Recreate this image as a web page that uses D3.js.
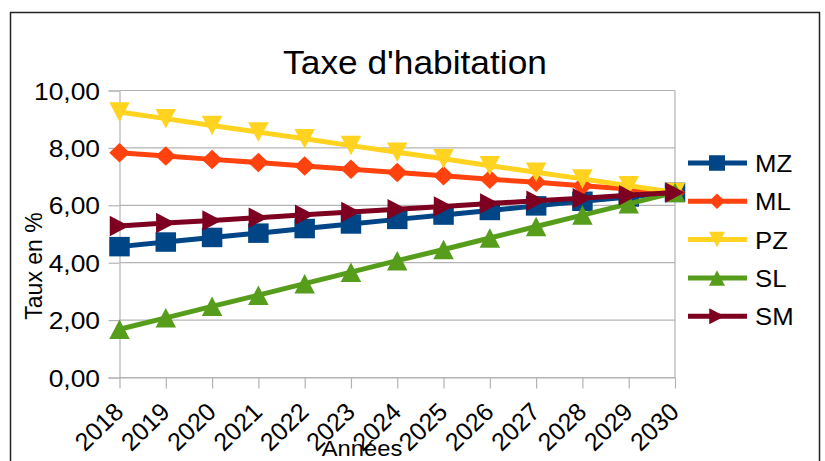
<!DOCTYPE html>
<html>
<head>
<meta charset="utf-8">
<script src="https://cdn.jsdelivr.net/npm/d3@7"></script>
<style>
  html, body { margin: 0; padding: 0; background: #fff; }
  svg { display: block; font-family: "Liberation Sans", Arial, sans-serif; }
</style>
</head>
<body>
<svg id="chart" width="825" height="461"></svg>
<script>
// Tax rates (%) per year for each commune
const years = ["2018","2019","2020","2021","2022","2023","2024","2025","2026","2027","2028","2029","2030"];
const MZ = [4.56, 4.72, 4.88, 5.03, 5.19, 5.35, 5.51, 5.66, 5.82, 5.98, 6.14, 6.29, 6.45];
const ML = [7.83, 7.72, 7.60, 7.49, 7.37, 7.26, 7.14, 7.03, 6.91, 6.80, 6.68, 6.57, 6.45];
const PZ = [9.25, 9.02, 8.78, 8.55, 8.32, 8.08, 7.85, 7.62, 7.38, 7.15, 6.92, 6.68, 6.45];
const SL = [1.68, 2.08, 2.48, 2.87, 3.27, 3.67, 4.07, 4.46, 4.86, 5.26, 5.66, 6.05, 6.45];
const SM = [5.28, 5.38, 5.47, 5.57, 5.67, 5.77, 5.86, 5.96, 6.06, 6.16, 6.25, 6.35, 6.45];
const yTicks = [0, 2, 4, 6, 8, 10];

const series = [
  { name: "MZ", values: MZ, color: "#004586", marker: "square" },
  { name: "ML", values: ML, color: "#ff420e", marker: "diamond" },
  { name: "PZ", values: PZ, color: "#ffd320", marker: "down" },
  { name: "SL", values: SL, color: "#579d1c", marker: "up" },
  { name: "SM", values: SM, color: "#7e0021", marker: "right" }
];

const svg = d3.select("#chart");
const plot = { left: 119.5, right: 675, top: 90.5, bottom: 377.5 };

const x = d3.scalePoint().domain(years).range([plot.left, plot.right]);
const y = d3.scaleLinear().domain([0, 10]).range([plot.bottom, plot.top]);
const fmt = v => d3.format(".2f")(v).replace(".", ",");

// Outer frame
svg.append("path")
  .attr("d", "M10.5,470 V12.5 H819.5 V470")
  .attr("fill", "none").attr("stroke", "#222").attr("stroke-width", 1.5);

// Slightly wide lettering
function wideText(sel, tx, ty, size, sx, anchor) {
  return sel.append("text")
    .attr("transform", `translate(${tx},${ty}) scale(${sx},1)`)
    .attr("text-anchor", anchor)
    .attr("font-size", size);
}

// Title
wideText(svg, 415, 74, 33, 1.07, "middle").text("Taxe d'habitation");

// Horizontal gridlines and plot border
const grid = svg.append("g").attr("stroke", "#b3b3b3").attr("stroke-width", 1.2);
yTicks.forEach(t => {
  grid.append("line")
    .attr("x1", plot.left).attr("x2", plot.right)
    .attr("y1", y(t)).attr("y2", y(t));
});
grid.append("line").attr("x1", plot.right).attr("x2", plot.right)
  .attr("y1", plot.top).attr("y2", plot.bottom);

// Y axis
const yAxis = svg.append("g")
  .attr("transform", `translate(${plot.left},0)`)
  .call(d3.axisLeft(y).tickValues(yTicks).tickFormat(fmt).tickSize(11).tickPadding(6));
yAxis.select(".domain").attr("stroke", "#b3b3b3").attr("stroke-width", 1.2);
yAxis.selectAll(".tick line").attr("stroke", "#b3b3b3").attr("stroke-width", 1.2);
yAxis.selectAll(".tick text")
  .attr("font-size", 24).attr("fill", "#000")
  .attr("font-family", "Liberation Sans, Arial, sans-serif")
  .attr("x", 0)
  .attr("dy", "0.36em")
  .attr("transform", "translate(-19.5,0) scale(1.1,1)");

// X axis
const xAxis = svg.append("g")
  .attr("transform", `translate(0,${plot.bottom})`)
  .call(d3.axisBottom(x).tickSize(11).tickSizeOuter(0));
xAxis.select(".domain").attr("stroke", "#b3b3b3").attr("stroke-width", 1.2);
xAxis.selectAll(".tick line").attr("stroke", "#b3b3b3").attr("stroke-width", 1.2);
xAxis.selectAll(".tick text")
  .attr("font-size", 25).attr("fill", "#000")
  .attr("font-family", "Liberation Sans, Arial, sans-serif")
  .attr("text-anchor", "end")
  .attr("dy", null).attr("y", null)
  .attr("transform", "translate(5,36) rotate(-44)");

// Axis titles
svg.append("text")
  .attr("transform", "translate(42,266) rotate(-90)")
  .attr("text-anchor", "middle")
  .attr("font-size", 23)
  .text("Taux en %");
wideText(svg, 362, 456, 22, 1.08, "middle").text("Années");

// Marker shapes (w = width, h = height)
function markerPath(type, w, h) {
  const a = w / 2, b = h / 2;
  switch (type) {
    case "square": return `M${-a},${-b}H${a}V${b}H${-a}Z`;
    case "diamond": return `M0,${-b}L${a},0L0,${b}L${-a},0Z`;
    case "down": return `M${-a},${-b}H${a}L0,${b}Z`;
    case "up": return `M${-a},${b}H${a}L0,${-b}Z`;
    case "right": return `M${-b},${-a}V${a}L${b},0Z`;
  }
}

// Series lines with markers
const line = d3.line().x((d, i) => x(years[i])).y(d => y(d));
series.forEach(s => {
  const g = svg.append("g");
  g.append("path")
    .attr("d", line(s.values))
    .attr("fill", "none")
    .attr("stroke", s.color)
    .attr("stroke-width", 5)
    .attr("stroke-linejoin", "round");
  g.selectAll("path.m").data(s.values).join("path")
    .attr("class", "m")
    .attr("d", markerPath(s.marker, 20.5, 19.5))
    .attr("transform", (d, i) => `translate(${x(years[i])},${y(d)})`)
    .attr("fill", s.color);
});

// Legend
const legend = svg.append("g");
series.forEach((s, i) => {
  const ly = 163 + i * 38.3;
  legend.append("line")
    .attr("x1", 688).attr("x2", 747)
    .attr("y1", ly).attr("y2", ly)
    .attr("stroke", s.color).attr("stroke-width", 5);
  legend.append("path")
    .attr("d", markerPath(s.marker, 16, 15.5))
    .attr("transform", `translate(717,${ly})`)
    .attr("fill", s.color);
  wideText(legend, 755, ly + 9, 24.5, 1.05, "start").text(s.name);
});
</script>
</body>
</html>
